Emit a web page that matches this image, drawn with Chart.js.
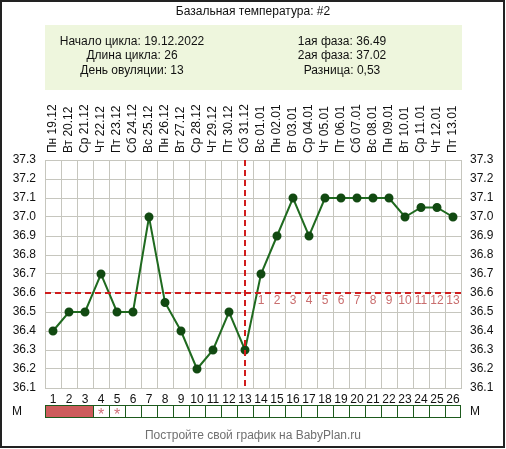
<!DOCTYPE html>
<html>
<head>
<meta charset="utf-8">
<script src="https://cdn.jsdelivr.net/npm/chart.js@4"></script>
<style>
html,body{margin:0;padding:0;background:#fff;}
canvas{display:block;}
</style>
</head>
<body>
<canvas id="c" width="506" height="449"></canvas>
<script>
const days = ['1','2','3','4','5','6','7','8','9','10','11','12','13','14','15','16','17','18','19','20','21','22','23','24','25','26'];
const dateLabels = ['Пн 19.12','Вт 20.12','Ср 21.12','Чт 22.12','Пт 23.12','Сб 24.12','Вс 25.12','Пн 26.12','Вт 27.12','Ср 28.12','Чт 29.12','Пт 30.12','Сб 31.12','Вс 01.01','Пн 02.01','Вт 03.01','Ср 04.01','Чт 05.01','Пт 06.01','Сб 07.01','Вс 08.01','Пн 09.01','Вт 10.01','Ср 11.01','Чт 12.01','Пт 13.01'];
const temps = [36.4,36.5,36.5,36.7,36.5,36.5,37.0,36.55,36.4,36.2,36.3,36.5,36.3,36.7,36.9,37.1,36.9,37.1,37.1,37.1,37.1,37.1,37.0,37.05,37.05,37.0];
const menses = ['full','full','full','star','star','','','','','','','','','','','','','','','','','','','','',''];
const coverline = 36.6;
const ovulationDay = 13;
const titleText = 'Базальная температура: #2';
const infoLeft = ['Начало цикла: 19.12.2022','Длина цикла: 26','День овуляции: 13'];
const infoRight = ['1ая фаза: 36.49','2ая фаза: 37.02','Разница: 0,53'];
const footerText = 'Постройте свой график на BabyPlan.ru';
const yMin = 36.1, yMax = 37.3;

const FONT = '"Liberation Sans", Arial, sans-serif';

const decor = {
  id: 'decor',
  beforeDraw(chart) {
    const ctx = chart.ctx;
    const x = chart.scales.x;
    ctx.save();
    ctx.fillStyle = '#fff';
    ctx.fillRect(0, 0, chart.width, chart.height);
    ctx.fillStyle = '#111';
    ctx.font = '12px ' + FONT;
    ctx.textAlign = 'center';
    ctx.textBaseline = 'middle';
    ctx.fillText(titleText, 253, 12);
    ctx.fillStyle = '#eef6dd';
    ctx.fillRect(45, 25, 417, 65);
    ctx.fillStyle = '#111';
    const rows = [42, 56, 71];
    infoLeft.forEach((t, i) => ctx.fillText(t, 132, rows[i]));
    infoRight.forEach((t, i) => ctx.fillText(t, 342, rows[i]));
    dateLabels.forEach((t, i) => {
      const px = x.getPixelForValue(i);
      ctx.save();
      ctx.translate(px, 153);
      ctx.rotate(-Math.PI / 2);
      ctx.textAlign = 'left';
      ctx.textBaseline = 'middle';
      ctx.fillText(t, 0, 0);
      ctx.restore();
    });
    ctx.restore();
  },
  afterDatasetsDraw(chart) {
    const ctx = chart.ctx;
    const x = chart.scales.x, y = chart.scales.y;
    const a = chart.chartArea;
    ctx.save();
    ctx.fillStyle = '#c96e6e';
    ctx.font = '12px ' + FONT;
    ctx.textAlign = 'center';
    ctx.textBaseline = 'middle';
    const cy = y.getPixelForValue(coverline);
    for (let d = ovulationDay + 1, n = 1; d <= days.length; d++, n++) {
      ctx.fillText(String(n), x.getPixelForValue(d - 1), cy + 8);
    }
    ctx.strokeStyle = '#d01c1c';
    ctx.lineWidth = 2;
    ctx.setLineDash([6, 4]);
    ctx.beginPath();
    ctx.moveTo(a.left, cy);
    ctx.lineTo(a.right, cy);
    ctx.stroke();
    const ox = x.getPixelForValue(ovulationDay - 1);
    ctx.beginPath();
    ctx.moveTo(ox, a.top);
    ctx.lineTo(ox, a.bottom);
    ctx.stroke();
    ctx.setLineDash([]);
    ctx.restore();
  },
  afterDraw(chart) {
    const ctx = chart.ctx;
    const x = chart.scales.x;
    const half = (x.getPixelForValue(1) - x.getPixelForValue(0)) / 2;
    ctx.save();
    const top = 405, h = 12;
    menses.forEach((m, i) => {
      const px = x.getPixelForValue(i);
      if (m === 'full') {
        ctx.fillStyle = '#cd5c5c';
        ctx.fillRect(px - half, top, half * 2, h);
      }
    });
    ctx.strokeStyle = '#1d5a1d';
    ctx.lineWidth = 1;
    ctx.strokeRect(Math.round(x.left) + 0.5, top + 0.5, Math.round(x.right - x.left) - 1, h);
    menses.forEach((m, i) => {
      const px = x.getPixelForValue(i);
      if (i > 0 && !(m === 'full' && menses[i - 1] === 'full')) {
        const lx = Math.round(px - half) + 0.5;
        ctx.beginPath();
        ctx.moveTo(lx, top);
        ctx.lineTo(lx, top + h);
        ctx.stroke();
      }
      if (m === 'star') {
        ctx.fillStyle = '#d0707a';
        ctx.font = '16px ' + FONT;
        ctx.textAlign = 'center';
        ctx.textBaseline = 'middle';
        ctx.fillText('*', px, top + h / 2 + 5);
      }
    });
    ctx.fillStyle = '#111';
    ctx.font = '12px ' + FONT;
    ctx.textAlign = 'center';
    ctx.textBaseline = 'middle';
    ctx.fillText('M', 17, top + h / 2 + 1);
    ctx.fillText('M', 475, top + h / 2 + 1);
    ctx.fillStyle = '#707070';
    ctx.fillText(footerText, 253, 436);
    ctx.strokeStyle = '#222';
    ctx.lineWidth = 2;
    ctx.strokeRect(1, 1, 503, 446);
    ctx.restore();
  }
};

const gridColor = '#c6c6be';
const tickFont = { family: FONT, size: 12 };

new Chart(document.getElementById('c'), {
  type: 'line',
  data: {
    labels: days,
    datasets: [{
      data: temps,
      borderColor: '#1f6a1f',
      backgroundColor: '#124a12',
      pointBackgroundColor: '#124a12',
      pointBorderColor: '#124a12',
      borderWidth: 2,
      pointRadius: 3.5,
      tension: 0,
      fill: false
    }]
  },
  options: {
    responsive: false,
    animation: false,
    devicePixelRatio: 1,
    layout: { padding: { top: 160, left: 0, right: 0, bottom: 0 } },
    plugins: { legend: { display: false }, tooltip: { enabled: false } },
    scales: {
      x: {
        type: 'category',
        offset: true,
        grid: { offset: true, color: gridColor, drawTicks: false },
        border: { color: gridColor },
        ticks: { font: tickFont, color: '#111', padding: 4, maxRotation: 0, autoSkip: false },
        afterFit(s) { s.height = 61; }
      },
      y: {
        min: yMin, max: yMax,
        position: 'left',
        grid: { color: gridColor, drawTicks: false },
        border: { color: gridColor },
        ticks: { stepSize: 0.1, font: tickFont, color: '#111', padding: 9, callback: v => Number(v).toFixed(1) },
        afterFit(s) { s.width = 45; }
      },
      y2: {
        min: yMin, max: yMax,
        position: 'right',
        grid: { display: false, drawTicks: false },
        border: { color: gridColor },
        ticks: { stepSize: 0.1, font: tickFont, color: '#111', padding: 9, callback: v => Number(v).toFixed(1) },
        afterFit(s) { s.width = 45; }
      }
    }
  },
  plugins: [decor]
});
</script>
</body>
</html>
